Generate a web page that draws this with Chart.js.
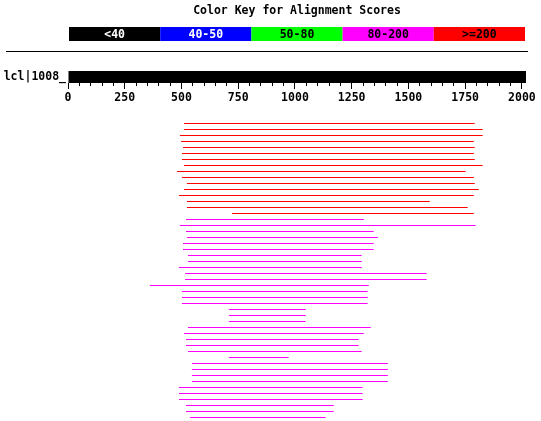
<!DOCTYPE html>
<html>
<head>
<meta charset="utf-8">
<script src="https://cdn.jsdelivr.net/npm/chart.js@4.4.1/dist/chart.umd.min.js"></script>
<style>
  body { margin: 0; background: #fff; width: 541px; height: 421px; position: relative; overflow: hidden; }
  canvas { position: absolute; left: 0; }
  #regle { position: absolute; left: 6px; top: 51px; width: 522px; height: 0; border-top: 1px solid #000; }
</style>
</head>
<body>
<canvas id="cle" width="541" height="44" style="top:0"></canvas>
<div id="regle"></div>
<canvas id="requete" width="541" height="45" style="top:60px"></canvas>
<canvas id="alignements" width="541" height="311" style="top:110px"></canvas>
<script>
// Légende des scores
const keyLabels = ['<40', '40-50', '50-80', '80-200', '>=200'];
const keyColors = ['#000000', '#0000ff', '#00ff00', '#ff00ff', '#ff0000'];
const keyTextColors = ['#ffffff', '#ffffff', '#000000', '#000000', '#000000'];

// Séquence requête
const queryName = 'lcl|1008_';
const queryLength = 2018;

// Alignements (début, fin, classe de score = index dans keyLabels)
const alignStart = [511, 511, 493, 498, 507, 502, 502, 511, 480, 502, 524, 511, 489, 524, 524, 723,
    520, 493, 520, 524, 507, 507, 529, 529, 489, 516, 516, 361, 502, 502, 502, 709, 709, 709,
    529, 511, 520, 520, 529, 709, 546, 546, 546, 546, 489, 489, 489, 520, 520, 538];
const alignEnd = [1792, 1827, 1827, 1788, 1792, 1788, 1792, 1827, 1752, 1788, 1792, 1810, 1788, 1594, 1761, 1788,
    1303, 1796, 1347, 1365, 1347, 1347, 1294, 1294, 1294, 1580, 1580, 1325, 1320, 1320, 1320, 1047, 1047, 1047,
    1334, 1303, 1281, 1281, 1294, 972, 1409, 1409, 1409, 1409, 1298, 1298, 1298, 1171, 1171, 1135];
const alignBin = [4, 4, 4, 4, 4, 4, 4, 4, 4, 4, 4, 4, 4, 4, 4, 4,
    3, 3, 3, 3, 3, 3, 3, 3, 3, 3, 3, 3, 3, 3, 3, 3, 3, 3,
    3, 3, 3, 3, 3, 3, 3, 3, 3, 3, 3, 3, 3, 3, 3, 3];
// segment jaune superposé sur l'alignement 18
const overlapRow = 17;
const overlapStart = 987;
const overlapEnd = 1149;

const police = { family: '"DejaVu Sans Mono", monospace', size: 11.5, weight: 'bold' };
const xMax = queryLength;

// Graphique 1 : légende des couleurs
const texteCle = {
    id: 'texteCle',
    afterDatasetsDraw(chart) {
        const ctx = chart.ctx;
        const zone = chart.chartArea;
        const meta = chart.getDatasetMeta(0);
        ctx.save();
        ctx.font = 'bold 11.5px "DejaVu Sans Mono", monospace';
        ctx.textAlign = 'center';
        ctx.textBaseline = 'middle';
        meta.data.forEach((barre, i) => {
            ctx.fillStyle = keyTextColors[i];
            ctx.fillText(keyLabels[i], barre.x, (zone.top + zone.bottom) / 2 + 1);
        });
        ctx.restore();
    }
};

new Chart(document.getElementById('cle').getContext('2d'), {
    type: 'bar',
    data: {
        labels: keyLabels,
        datasets: [{
            data: keyLabels.map(() => 1),
            backgroundColor: keyColors,
            borderWidth: 0,
            barPercentage: 1,
            categoryPercentage: 1,
            inflateAmount: 0
        }]
    },
    options: {
        responsive: false,
        animation: false,
        devicePixelRatio: 1,
        layout: { padding: { left: 69, right: 16, top: 0, bottom: 3 } },
        scales: {
            x: { display: false },
            y: { display: false, min: 0, max: 1 }
        },
        plugins: {
            legend: { display: false },
            tooltip: { enabled: false },
            title: {
                display: true,
                text: 'Color Key for Alignment Scores',
                fullSize: false,
                color: '#000',
                font: police,
                padding: { top: 4, bottom: 9.2 }
            }
        }
    },
    plugins: [texteCle]
});

// Graphique 2 : séquence requête et axe
new Chart(document.getElementById('requete').getContext('2d'), {
    type: 'bar',
    data: {
        labels: [queryName],
        datasets: [{
            data: [[0, queryLength]],
            backgroundColor: '#000',
            borderWidth: 0,
            barPercentage: 1,
            categoryPercentage: 1,
            inflateAmount: 0
        }]
    },
    options: {
        indexAxis: 'y',
        responsive: false,
        animation: false,
        devicePixelRatio: 1,
        layout: { padding: { left: 0, right: 15, top: 11, bottom: 0 } },
        scales: {
            x: {
                type: 'linear',
                min: 0,
                max: xMax,
                border: { display: false },
                grid: {
                    drawOnChartArea: false,
                    drawTicks: true,
                    tickLength: 6,
                    tickColor: '#000',
                    tickWidth: 1,
                    tickBorderDash: (c) => (c.tick && c.tick.value % 250 === 0) ? [] : [3, 20]
                },
                ticks: {
                    stepSize: 50,
                    includeBounds: false,
                    autoSkip: false,
                    maxRotation: 0,
                    padding: 2,
                    color: '#000',
                    font: police,
                    callback: (v) => v % 250 === 0 ? v : ''
                },
                afterFit: (scale) => { scale.height = 22; }
            },
            y: {
                grid: { display: false, drawTicks: false },
                border: { display: false },
                ticks: { color: '#000', font: police, padding: 2 },
                afterFit: (scale) => { scale.width = 68; }
            }
        },
        plugins: {
            legend: { display: false },
            tooltip: { enabled: false }
        }
    }
});

// Graphique 3 : alignements
const lignes = alignStart.map((_, i) => 'hit ' + (i + 1));
const jaune = lignes.map((_, i) => i === overlapRow ? [overlapStart, overlapEnd] : null);

new Chart(document.getElementById('alignements').getContext('2d'), {
    type: 'bar',
    data: {
        labels: lignes,
        datasets: [{
            data: alignStart.map((d, i) => [d, alignEnd[i]]),
            backgroundColor: alignBin.map(b => keyColors[b]),
            borderWidth: 0,
            barThickness: 1,
            grouped: false,
            inflateAmount: 0
        }, {
            data: jaune,
            backgroundColor: '#ffff00',
            borderWidth: 0,
            barThickness: 1,
            grouped: false,
            inflateAmount: 0
        }]
    },
    options: {
        indexAxis: 'y',
        responsive: false,
        animation: false,
        devicePixelRatio: 1,
        layout: { padding: { left: 68, right: 15, top: 10.5, bottom: 0.5 } },
        scales: {
            x: { type: 'linear', min: 0, max: xMax, display: false },
            y: { display: false }
        },
        plugins: {
            legend: { display: false },
            tooltip: { enabled: false }
        }
    }
});
</script>
</body>
</html>
